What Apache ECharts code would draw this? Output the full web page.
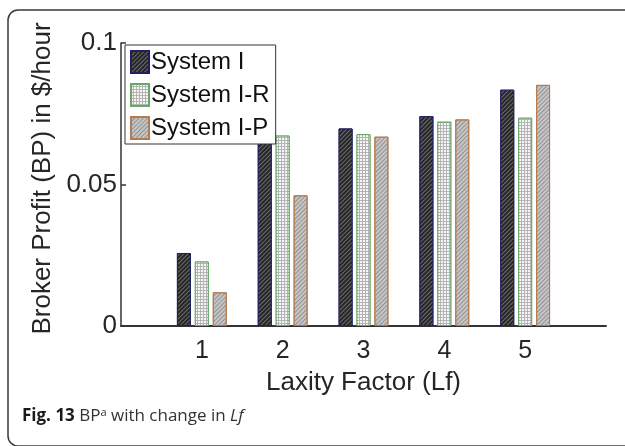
<!DOCTYPE html>
<html>
<head>
<meta charset="utf-8">
<script src="https://cdn.jsdelivr.net/npm/echarts@6/dist/echarts.min.js"></script>
<style>
  html, body { margin: 0; padding: 0; background: #fff; }
  #chart { width: 625px; height: 446px; }
</style>
</head>
<body>
<div id="chart"></div>
<script>
// Laxity factor values on the x axis
const laxityFactors = [1, 2, 3, 4, 5];
// Broker profit ($/hour) for each system
const systemI  = [0.0258, 0.0685, 0.0698, 0.0742, 0.0835];
const systemIR = [0.0228, 0.0673, 0.0678, 0.0722, 0.0736];
const systemIP = [0.0119, 0.0462, 0.0669, 0.0730, 0.0852];
const seriesNames = ['System I', 'System I-R', 'System I-P'];
const yTicks = [0, 0.05, 0.1];

const FONT = 'Liberation Sans, Arial, sans-serif';
const TXT = '#262626';

function pairs(vals) {
  return laxityFactors.map((x, i) => [x, vals[i]]);
}

const styles = [
  {
    color: '#262626', borderColor: '#1f1f66', borderWidth: 1,
    decal: { symbol: 'rect', symbolSize: 1, color: 'rgba(115,115,115,0.9)',
             dashArrayX: [1, 0], dashArrayY: [1, 2], rotation: -Math.PI / 4 }
  },
  {
    color: '#b4b4b4', borderColor: '#6aa86a', borderWidth: 1,
    decal: { symbol: 'rect', symbolSize: 1, color: '#f6f6f6',
             dashArrayX: [2, 1], dashArrayY: [2, 1], rotation: 0 }
  },
  {
    color: '#c6c6c6', borderColor: '#b87a4a', borderWidth: 1,
    decal: { symbol: 'rect', symbolSize: 1, color: 'rgba(140,140,140,0.9)',
             dashArrayX: [1, 0], dashArrayY: [1, 2], rotation: -Math.PI / 4 }
  }
];

const allValues = [systemI, systemIR, systemIP];

const chart = echarts.init(document.getElementById('chart'), null, { renderer: 'canvas' });
chart.setOption({
  backgroundColor: '#fff',
  animation: false,
  grid: { left: 121, right: 19, top: 43, bottom: 120, containLabel: false },
  legend: {
    orient: 'vertical',
    left: 125, top: 45,
    padding: [5, 6, 4, 5],
    icon: 'rect',
    itemWidth: 18, itemHeight: 22, itemGap: 9,
    backgroundColor: '#fff',
    borderColor: '#333', borderWidth: 1,
    textStyle: { fontFamily: FONT, fontSize: 24, color: '#111', padding: [0, 0, 0, -3] },
    data: seriesNames
  },
  xAxis: {
    type: 'value', min: 0, max: 6, interval: 1,
    name: 'Laxity Factor (Lf)', nameLocation: 'middle', nameGap: 44,
    nameTextStyle: { fontFamily: FONT, fontSize: 26, color: TXT },
    axisLine: { show: true, lineStyle: { color: '#333', width: 2 } },
    axisTick: { show: false },
    splitLine: { show: false },
    axisLabel: {
      fontFamily: FONT, fontSize: 25, color: TXT, margin: 13,
      formatter: v => (laxityFactors.indexOf(v) >= 0 ? String(v) : '')
    }
  },
  yAxis: {
    type: 'value', min: 0, max: 0.1, interval: 0.05,
    name: 'Broker Profit (BP) in $/hour', nameLocation: 'middle', nameGap: 62,
    nameTextStyle: { fontFamily: FONT, fontSize: 26, color: TXT, padding: [0, 0, 0, 12] },
    axisLine: { show: true, lineStyle: { color: '#333', width: 1.5 } },
    axisTick: { show: true, inside: true, length: 5, lineStyle: { color: '#333', width: 1.5 } },
    splitLine: { show: false },
    axisLabel: {
      fontFamily: FONT, fontSize: 26, color: TXT, margin: 4,
      formatter: v => {
        const t = yTicks.find(y => Math.abs(y - v) < 1e-9);
        return t === undefined ? '' : String(t);
      }
    }
  },
  series: seriesNames.map((name, k) => ({
    name,
    type: 'bar',
    barWidth: 14,
    barGap: '28%',
    itemStyle: styles[k],
    data: pairs(allValues[k]),
    z: 1
  })),
  graphic: [
    {
      type: 'rect', silent: true, z: 100,
      shape: { x: 8, y: 10, width: 640, height: 436, r: 10 },
      style: { fill: 'none', stroke: '#3a3a3a', lineWidth: 1.5 }
    },
    {
      type: 'text', z: 100, left: 22, top: 407,
      style: {
        text: '{b|Fig. 13} BP{sup|a} with change in {i|Lf}',
        fontFamily: 'Open Sans, sans-serif', fontSize: 17, fill: '#333',
        rich: {
          b: { fontFamily: 'Open Sans, sans-serif', fontWeight: 'bold', fontSize: 17, fill: '#1a1a1a' },
          sup: { fontFamily: 'Open Sans, sans-serif', fontSize: 11, fill: '#333', verticalAlign: 'top', padding: [0, 0, 8, 0] },
          i: { fontFamily: 'Open Sans, sans-serif', fontStyle: 'italic', fontSize: 17, fill: '#333' }
        }
      }
    }
  ]
});
</script>
</body>
</html>
